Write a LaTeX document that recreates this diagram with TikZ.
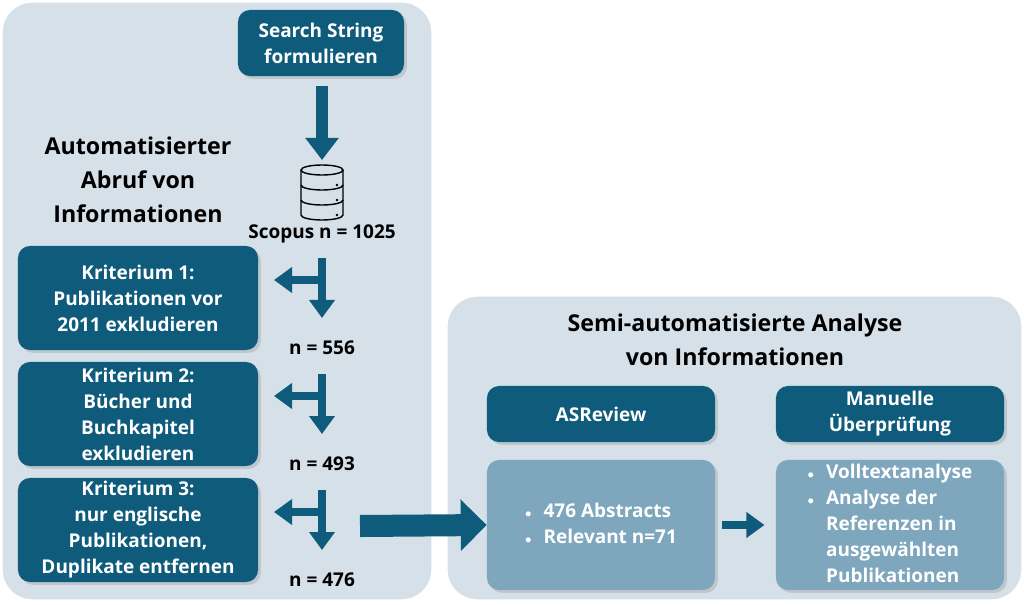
\documentclass[tikz,border=0pt]{standalone}
\usepackage{fontspec}
\setmainfont{Open Sans}
\usetikzlibrary{arrows.meta,shadows}
\definecolor{dark}{HTML}{0E5B7C}
\definecolor{light}{HTML}{7EA7BE}
\definecolor{panel}{HTML}{D5E0E9}
\begin{document}
\begin{tikzpicture}[x=0.025cm, y=-0.025cm, font=\bfseries\fontsize{13.5}{18.5}\selectfont,
    panel/.style = {fill=panel, draw=white, line width=1pt, rounded corners=0.75cm},
    box/.style = {fill=dark, text=white, rounded corners=0.3cm, align=center, inner sep=0pt,
      drop shadow={opacity=0.25, shadow xshift=2pt, shadow yshift=-2pt}},
    lbox/.style = {box, fill=light, align=left},
    title/.style = {align=center, font=\bfseries\fontsize{16.5}{24}\selectfont},
    big/.style = {dark, line width=0.3cm, -{Triangle[length=0.55cm, width=0.8cm]}},
    small/.style = {dark, line width=0.22cm, -{Triangle[length=0.45cm, width=0.62cm]}}]
    \useasboundingbox (0,0) rectangle (1024,604);
    \draw[panel] (2,2) rectangle (432,600);
    \draw[panel] (447,296) rectangle (1022,600);
    \node[box, minimum width=4.15cm, minimum height=1.65cm] (search) at (321,43) {Search String\\formulieren};
    \node[title] (auto) at (138,180) {Automatisierter\\Abruf von\\Informationen};
    % database
    \begin{scope}[shift={(322,190)}, line width=1pt]
      \coordinate (db) at (0,-30);
      \draw (-21,-20) -- (-21,25) arc[start angle=180, end angle=360, x radius=21, y radius=-5] -- (21,-20);
      \draw (0,-20) ellipse[x radius=21, y radius=5];
      \draw (-21,-5) arc[start angle=180, end angle=360, x radius=21, y radius=-5];
      \draw (-21,10) arc[start angle=180, end angle=360, x radius=21, y radius=-5];
      \foreach \y in {-5,10,25} \fill (15,\y) circle[radius=1.3];
    \end{scope}
    \coordinate (s1) at (322,86);
    \draw[big] (s1) -- (db);
    \node (scopus) at (322,234) {Scopus n = 1025};
    % criteria
    \foreach \i/\txt/\n in {1/{Kriterium 1:\\Publikationen vor\\2011 exkludieren}/556,
        2/{Kriterium 2:\\Bücher und\\Buchkapitel\\exkludieren}/493,
        3/{Kriterium 3:\\nur englische\\Publikationen,\\Duplikate entfernen}/476} {
      \pgfmathsetmacro{\yy}{298+116*(\i-1)}
      \node[box, minimum width=6cm, minimum height=2.6cm] (k\i) at (138,\yy) {\txt};
      \coordinate (top\i) at (322,\yy-40);
      \coordinate (mid\i) at (322,\yy-18);
      \coordinate (bot\i) at (322,\yy+20);
      \coordinate (left\i) at (274,\yy-18);
      \draw[small] (top\i) -- (bot\i);
      \draw[small] (mid\i) -- (left\i);
      \node (n\i) at (322,\yy+50) {n = \n};
    }
    % right panel
    \node[title] (semi) at (735,340) {Semi-automatisierte Analyse\\von Informationen};
    \node[box, minimum width=5.7cm, minimum height=1.4cm] (asr) at (601,414) {ASReview};
    \node[box, minimum width=5.7cm, minimum height=1.4cm] (man) at (890,414) {Manuelle\\Überprüfung};
    \node[lbox, minimum width=5.7cm, minimum height=3.25cm] (abs) at (601,525)
      {\begin{tabular}{@{}l@{\hspace{0.3cm}}l@{}}\small$\bullet$ & 476 Abstracts\\ \small$\bullet$ & Relevant n=71\end{tabular}};
    \node[lbox, minimum width=5.7cm, minimum height=3.25cm] (voll) at (890,525)
      {\begin{tabular}{@{}l@{\hspace{0.3cm}}l@{}}\small$\bullet$ & Volltextanalyse\\ \small$\bullet$ & Analyse der\\ & Referenzen in\\ & ausgewählten\\ & Publikationen\end{tabular}};
    \coordinate (b1) at (360,526);
    \draw[dark, line width=0.55cm, -{Triangle[length=0.65cm, width=1.25cm]}] (b1) -- (abs.west);
    \draw[small] (abs.east) ++(7,0) -- ([xshift=-8]voll.west);
\end{tikzpicture}
\end{document}
